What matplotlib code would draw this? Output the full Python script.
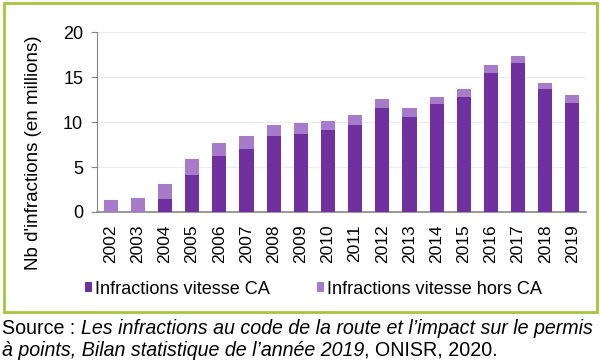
import numpy as np
import matplotlib.pyplot as plt
from matplotlib.patches import Rectangle

plt.rcParams['font.family'] = ['Liberation Sans', 'DejaVu Sans']

# Data (millions)
years = ['2002', '2003', '2004', '2005', '2006', '2007', '2008', '2009', '2010',
         '2011', '2012', '2013', '2014', '2015', '2016', '2017', '2018', '2019']
vitesse_ca = [0.0, 0.0, 1.49, 4.16, 6.25, 7.03, 8.48, 8.66, 9.1,
              9.67, 11.56, 10.6, 11.97, 12.75, 15.5, 16.6, 13.7, 12.16]
total = [1.3, 1.6, 3.16, 5.87, 7.62, 8.44, 9.7, 9.93, 10.1,
         10.74, 12.6, 11.56, 12.8, 13.64, 16.3, 17.36, 14.39, 12.97]
hors_ca = [t - c for t, c in zip(total, vitesse_ca)]

dark = '#7030a0'
light = '#a77bca'

fig = plt.figure(figsize=(6, 3.64), dpi=100)
ax = fig.add_axes([0.1617, 0.4176, 0.815, 0.4944])

x = np.arange(len(years))
ax.bar(x, vitesse_ca, width=0.52, color=dark, label='Infractions vitesse CA', zorder=3)
ax.bar(x, hors_ca, width=0.52, bottom=vitesse_ca, color=light,
       label='Infractions vitesse hors CA', zorder=3)

ax.set_xlim(-0.5, len(years) - 0.5)
ax.set_ylim(0, 20)
ax.set_yticks([0, 5, 10, 15, 20])
ax.set_xticks(x)
ax.set_xticklabels(years, rotation=90, fontsize=12.5)
ax.tick_params(axis='y', labelsize=13, length=4, color='#868686', pad=6)
ax.tick_params(axis='x', length=0, pad=9)
ax.yaxis.grid(True, color='#ececec', lw=0.8, zorder=0)
for s in ['top', 'right']:
    ax.spines[s].set_visible(False)
ax.spines['left'].set_color('#868686')
ax.spines['bottom'].set_color('#868686')
ax.spines['bottom'].set_linewidth(1.2)
ax.set_ylabel("Nb d'infractions (en millions)", fontsize=13.5)
ax.yaxis.set_label_coords(-0.112, 0.33)

fig.legend(loc='center left', bbox_to_anchor=(85 / 600, 1 - 289 / 364), ncol=2,
           frameon=False, fontsize=13.1, borderpad=0, borderaxespad=0,
           handlelength=0.4, handleheight=0.4, handletextpad=0.15,
           columnspacing=2.6)

# green frame
fig.patches.append(Rectangle((3.5 / 600, 1 - 311.5 / 364), 593 / 600, 308.5 / 364,
                             transform=fig.transFigure, fill=False,
                             edgecolor='#a2c83a', lw=2))

# source text
fs = 14.15
t1 = fig.text(2 / 600, 1 - 329 / 364, 'Source : ', fontsize=fs, va='center')
ax.annotate('Les infractions au code de la route et l\u2019impact sur le permis',
            xy=(1, 0), xycoords=t1, va='bottom', ha='left',
            fontsize=fs, style='italic', annotation_clip=False)
t2 = fig.text(2 / 600, 1 - 350 / 364, '\u00e0 points, Bilan statistique de l\u2019ann\u00e9e 2019',
              fontsize=fs, va='center', style='italic')
ax.annotate(', ONISR, 2020.', xy=(1, 0), xycoords=t2, va='bottom', ha='left',
            fontsize=fs, annotation_clip=False)

fig.savefig('out.png', dpi=100)
